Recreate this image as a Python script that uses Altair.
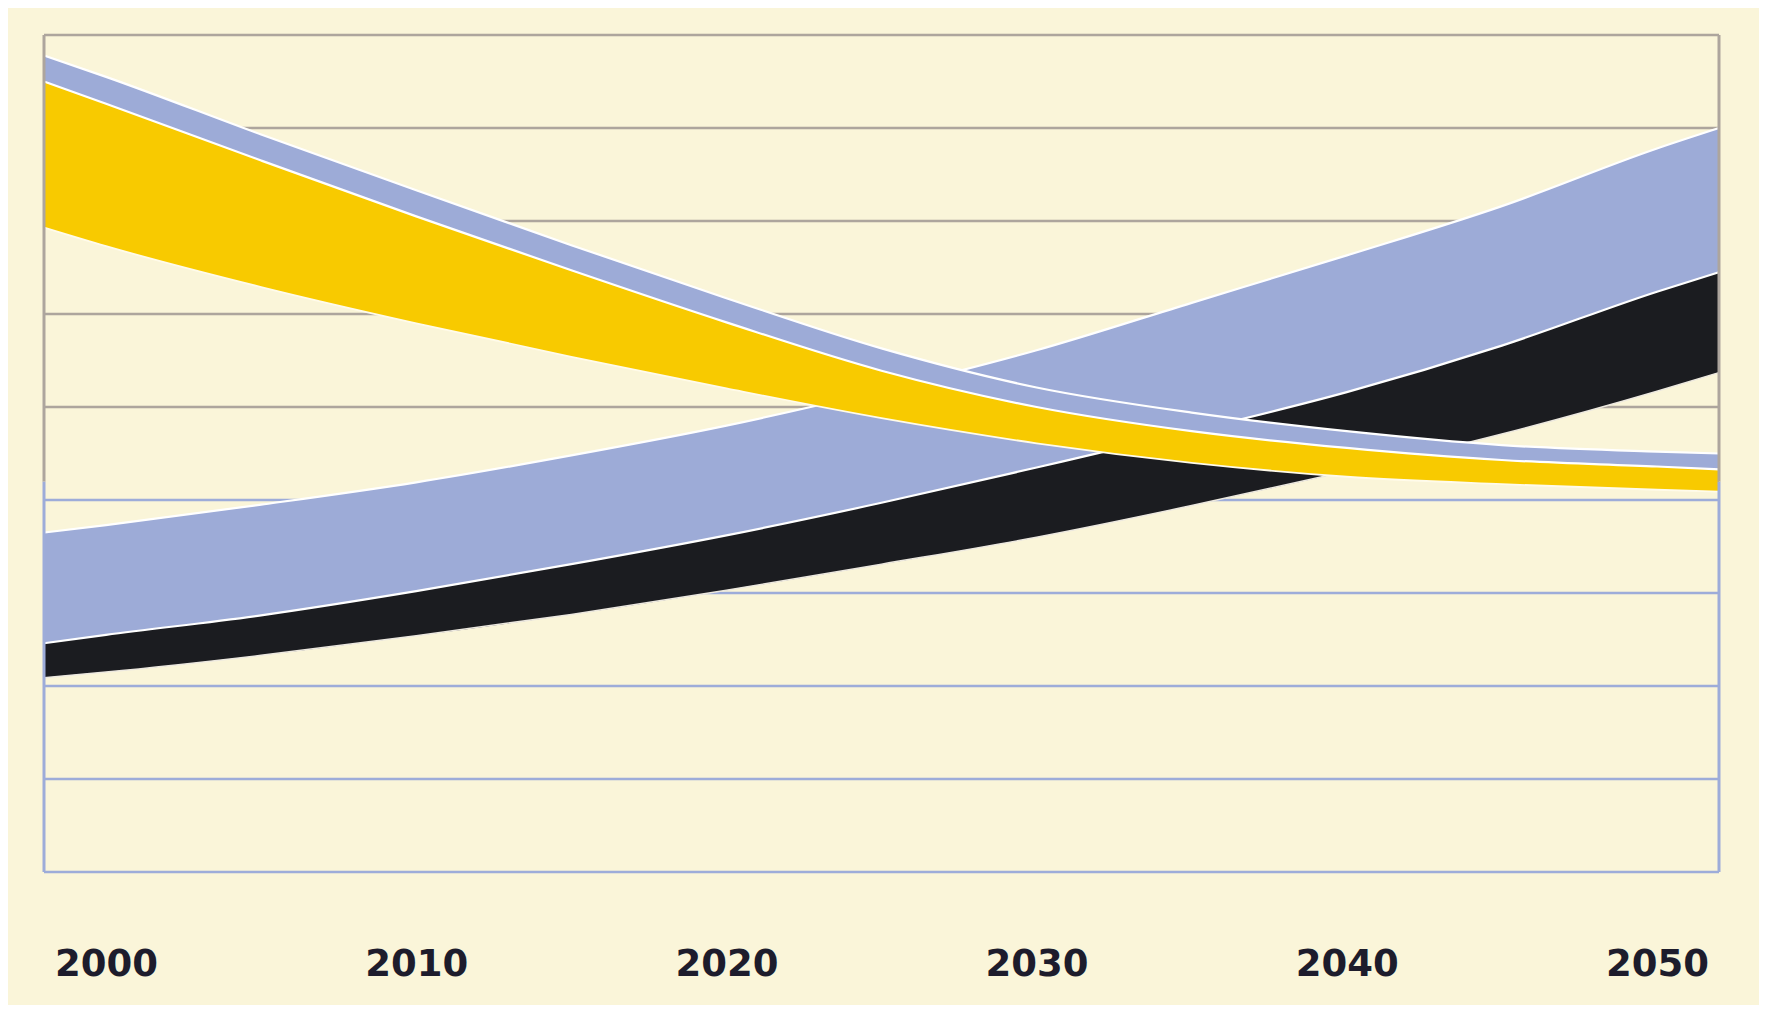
import altair as alt
import pandas as pd

# ---- data (y in arbitrary grid units, 0..9) ----
years = [1998, 2000, 2005, 2010, 2015, 2020, 2025, 2030, 2035, 2040, 2045, 2050, 2052]
desc_top = [8.78, 8.55, 7.93, 7.33, 6.74, 6.17, 5.63, 5.21, 4.94, 4.74, 4.59, 4.52, 4.50]
desc_mid = [8.50, 8.26, 7.65, 7.05, 6.47, 5.91, 5.39, 5.00, 4.74, 4.56, 4.43, 4.36, 4.33]
desc_low = [6.93, 6.73, 6.29, 5.90, 5.54, 5.20, 4.88, 4.61, 4.40, 4.25, 4.17, 4.11, 4.09]
asc_top = [3.65, 3.73, 3.95, 4.19, 4.48, 4.80, 5.18, 5.61, 6.12, 6.63, 7.16, 7.78, 8.00]
asc_mid = [2.46, 2.55, 2.76, 3.02, 3.31, 3.62, 3.97, 4.35, 4.74, 5.16, 5.66, 6.24, 6.45]
asc_low = [2.09, 2.15, 2.33, 2.54, 2.77, 3.03, 3.31, 3.60, 3.94, 4.31, 4.71, 5.17, 5.37]

tick_years = [2000, 2010, 2020, 2030, 2040, 2050]
grid_values = [0, 1, 2, 3, 4, 5, 6, 7, 8, 9]
grid_colors = ["#9DACD9"] * 5 + ["#ADA59D"] * 5
x_domain = [1998, 2052]
y_domain = [0, 9]
seam = 4.2

BG = "#FAF5D9"
BLUE = "#9DABD7"
YELLOW = "#F8CA00"
BLACK = "#1B1C20"

df = pd.DataFrame({
    "year": years,
    "desc_top": desc_top, "desc_mid": desc_mid, "desc_low": desc_low,
    "asc_top": asc_top, "asc_mid": asc_mid, "asc_low": asc_low,
})

grid_df = pd.DataFrame({"v": grid_values, "c": grid_colors})
border_df = pd.DataFrame({
    "x": [x_domain[0], x_domain[0], x_domain[1], x_domain[1]],
    "y": [0, seam, 0, seam],
    "y2": [seam, 9, seam, 9],
    "c": ["#9DACD9", "#ADA59D", "#9DACD9", "#ADA59D"],
})

xs = alt.Scale(domain=x_domain, nice=False, zero=False)
ys = alt.Scale(domain=y_domain, nice=False, zero=False)

x_enc = alt.X("year:Q", scale=xs, axis=alt.Axis(
    values=tick_years, format="d", title=None, grid=False, domain=False,
    ticks=False, tickSize=0, labelFont="DejaVu Sans", labelFontWeight="bold",
    labelFontSize=37, labelColor="#1D1C2C", labelPadding=103,
    labelBaseline="alphabetic", labelFlush=False))

grid = alt.Chart(grid_df).mark_rule(strokeWidth=2.5).encode(
    y=alt.Y("v:Q", scale=ys, axis=None),
    x=alt.value(0), x2=alt.value(1675),
    color=alt.Color("c:N", scale=None),
)

borders = alt.Chart(border_df).mark_rule(strokeWidth=3).encode(
    x=alt.X("x:Q", scale=xs),
    y=alt.Y("y:Q", scale=ys, axis=None), y2="y2:Q",
    color=alt.Color("c:N", scale=None),
)

base = alt.Chart(df)

def band(top, bottom, color):
    return base.mark_area(color=color, interpolate="monotone", opacity=1).encode(
        x=x_enc, y=alt.Y(f"{top}:Q", scale=ys, axis=None), y2=f"{bottom}:Q")

def edge(col, color="#FFFFFF", w=2.2):
    return base.mark_line(color=color, strokeWidth=w, interpolate="monotone").encode(
        x=alt.X("year:Q", scale=xs), y=alt.Y(f"{col}:Q", scale=ys, axis=None))

chart = alt.layer(
    grid,
    band("asc_top", "asc_mid", BLUE),
    band("asc_mid", "asc_low", BLACK),
    edge("asc_top"),
    edge("asc_mid"),
    edge("asc_low", "#EDE9E0", 1.5),
    band("desc_top", "desc_mid", BLUE),
    band("desc_mid", "desc_low", YELLOW),
    edge("desc_top"),
    edge("desc_mid"),
    edge("desc_low", "#FFFBEA", 1.8),
    borders,
).properties(
    width=1675, height=837,
    background=BG,
    padding={"left": 36, "top": 27, "right": 40, "bottom": 133},
    autosize=alt.AutoSizeParams(type="none"),
).configure_view(stroke=None)

chart.save("out.html", embed_options={"renderer": "svg", "actions": False})
